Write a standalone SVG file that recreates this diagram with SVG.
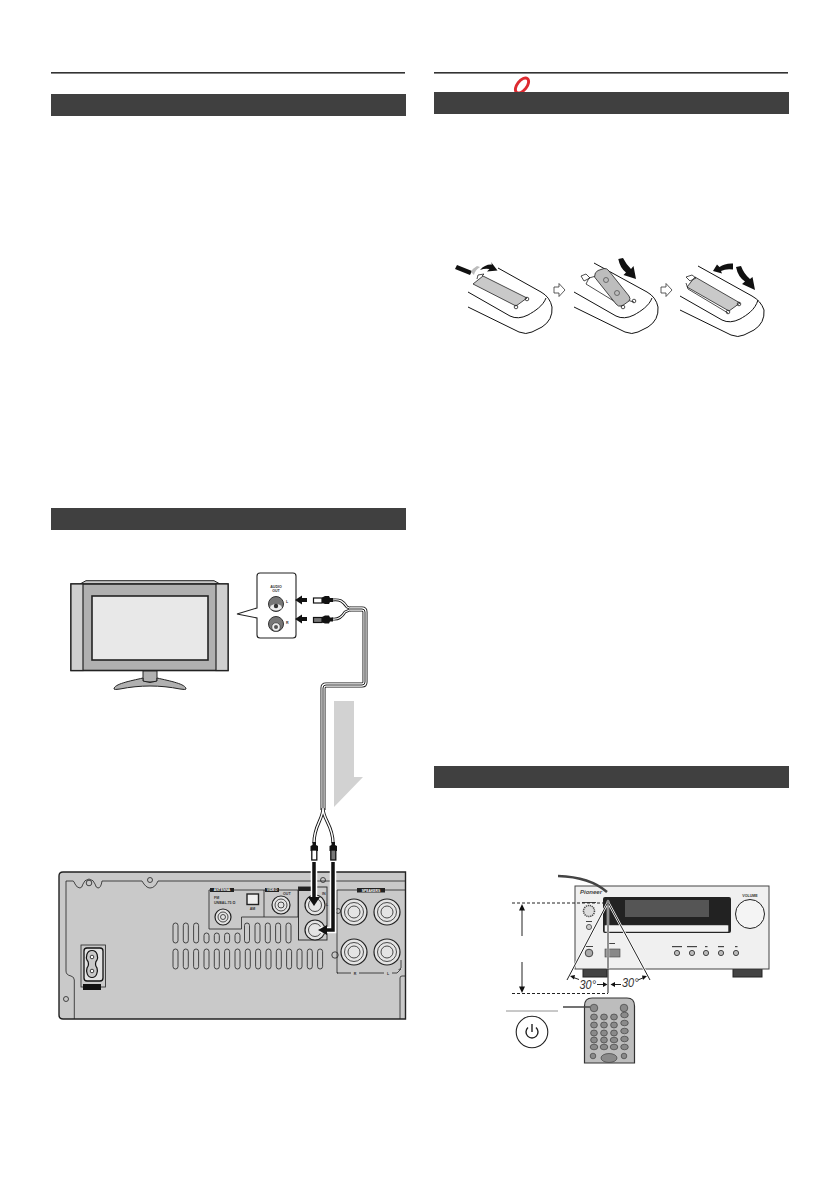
<svg xmlns="http://www.w3.org/2000/svg" width="839" height="1191" viewBox="0 0 839 1191">
<style>
text{font-family:"Liberation Sans",Arial,sans-serif;fill:#333}
.rule{fill:#333}
.bar{fill:#404040}
.o{fill:none;stroke:#111;stroke-width:1}
.o2{fill:none;stroke:#222;stroke-width:.8}
.g{fill:#c9c9c9;stroke:#222;stroke-width:.8}
.slot{fill:#c9c9c9;stroke:#222;stroke-width:.8}
.t{font-size:3.6px;font-weight:bold}
.w{font-size:3.4px;font-weight:bold;fill:#fff}
.jack{fill:#e4e4e4;stroke:#222;stroke-width:1.200}
.ba{fill:#111;stroke:none}
.rb{fill:#8a8a8a;stroke:#333;stroke-width:.6}
.lab{fill:#444}
</style>
<rect width="839" height="1191" fill="#fff"/>

<g id="headers">
<rect class="rule" x="51" y="72" width="354" height="1.6"/>
<rect class="rule" x="434" y="72" width="354" height="1.6"/>
<ellipse cx="522" cy="85.500" rx="8.800" ry="4.800" transform="rotate(-52 522 85.500)" fill="none" stroke="#dd2a30" stroke-width="2.900"/>
<rect class="bar" x="51" y="94" width="355" height="22"/>
<rect class="bar" x="434" y="92" width="355" height="22"/>
<rect class="bar" x="51" y="508" width="355" height="22"/>
<rect class="bar" x="434" y="766" width="355" height="22"/>
</g>

<g id="tv">
<path d="M80 584L86 580.700H214L220 584Z" fill="#c9c9c9" stroke="#222"/>
<rect x="71" y="584" width="157" height="86.500" fill="#b0b0b0" stroke="#222" stroke-width="1.600"/>
<rect x="71" y="584" width="12" height="86.500" fill="#cfcfcf" stroke="#222" stroke-width="1.200"/>
<rect x="216" y="584" width="12" height="86.500" fill="#cfcfcf" stroke="#222" stroke-width="1.200"/>
<rect x="92" y="596" width="116" height="64" fill="#e8e8e8" stroke="#222" stroke-width="1.600"/>
<path d="M143 671V680Q143 682 145 682H155Q157 682 157 680V671Z" fill="#b0b0b0" stroke="#222"/>
<path d="M114 689C114 684 130 681 143 678V681Q150 684 157 681V678C170 681 186 684 186 689Q186 690 180 689C160 685 140 685 120 689Q114 690 114 689Z" fill="#b0b0b0" stroke="#222"/>
</g>

<g id="audio-out-callout">
<path d="M257 608L237 614L257 618V635Q257 638 260 638H293Q296 638 296 635V576Q296 573 293 573H260Q257 573 257 576Z" fill="#fff" stroke="#222" stroke-width="1.100"/>
<text class="t" x="276" y="588" text-anchor="middle">AUDIO</text>
<text class="t" x="276" y="592" text-anchor="middle">OUT</text>
<circle cx="276" cy="604" r="7.500" fill="#777" stroke="#333"/>
<path d="M270 608a7 5 0 0 0 12 0a6 4 0 0 0-12 0Z" fill="#eee"/>
<circle cx="276" cy="606" r="2.200" fill="#333"/>
<text class="t" x="286" y="603">L</text>
<circle cx="276" cy="624" r="7.500" fill="#777" stroke="#333"/>
<circle cx="276" cy="627" r="4.300" fill="#eee" stroke="#555"/>
<circle cx="276" cy="627" r="2" fill="#555"/>
<text class="t" x="286" y="624">R</text>
</g>

<g id="connectors">
<g fill="none" stroke-linejoin="round">
<path d="M332 600C340 599 343 601 347 607L352 609M332 619C338 620 342 617 345 612L352 609" stroke="#111" stroke-width="2.800"/>
<path d="M332 600C340 599 343 601 347 607L352 609M332 619C338 620 342 617 345 612L352 609" stroke="#fff" stroke-width="1.200"/>
<path d="M350 609H362Q365 609 365 612V682Q365 685 362 685H326Q323 685 323 688V810" stroke="#111" stroke-width="5"/>
<path d="M350 609H362Q365 609 365 612V682Q365 685 362 685H326Q323 685 323 688V810" stroke="#fff" stroke-width="3.300"/>
<path d="M350 609H362Q365 609 365 612V682Q365 685 362 685H326Q323 685 323 688V810" stroke="#111" stroke-width=".9"/>
<path d="M323 808C323 820 314 825 314 843M323 808C323 820 333 825 333 843" stroke="#111" stroke-width="3.200"/>
<path d="M323 808C323 820 314 825 314 843M323 808C323 820 333 825 333 843" stroke="#fff" stroke-width="1.500"/>
</g>
<path class="ba" d="M295 600L302 595.500V598H307V602H302V604.500Z"/>
<path class="ba" d="M295 619L302 614.500V617H307V621H302V623.500Z"/>
<g id="plug-top-l"><rect x="313.500" y="598" width="8.500" height="5" fill="#fff" stroke="#111" stroke-width="1.200"/><path class="ba" d="M322 597.500L325 596H329L330 598H333V602H330L329 604H325L322 603Z"/></g>
<g id="plug-top-r"><rect x="313.500" y="617.500" width="8.500" height="5" fill="#777" stroke="#111" stroke-width="1.200"/><path class="ba" d="M322 617L325 615.500H329L330 617.500H333V621.500H330L329 623.500H325L322 622.500Z"/></g>
<polygon points="334,701 354,701 354,777 363,777 334,807" fill="#d2d2d2"/>
</g>

<g id="rear-panel">
<path d="M405.500 872H63Q59 872 59 876V1015Q59 1019 63 1019H405.500Z" fill="#c9c9c9" stroke="#222" stroke-width="1.400"/>
<path class="o2" d="M74.300 1019V980Q74.300 977 71 976Q66 975 66 971V881H73Q74 881 75 884Q77 888 80 888Q82 888 83 884Q84 880 89 879Q94 880 95 884Q96 888 98 888Q101 888 102 881H142Q146 888 150 888Q155 888 158 881H405"/>
<path class="o2" d="M400 1019V978Q400 976 402 976H405"/>
<circle class="o2" cx="89" cy="883" r="2.800"/><circle class="o2" cx="150" cy="880" r="2.500"/><circle class="o2" cx="323" cy="880" r="2.500"/><circle class="o2" cx="66" cy="999" r="2.500"/>
<path class="o2" stroke="#666" d="M209 890H298V917H241.500V929H209Z"/>
<path class="o2" stroke="#666" d="M264 890V917"/>
<rect x="210" y="888" width="24" height="4" fill="#222"/><text class="w" x="222" y="891.200" text-anchor="middle">ANTENNA</text>
<rect x="265" y="888" width="14" height="4" fill="#222"/><text class="w" x="272" y="891.200" text-anchor="middle">VIDEO</text>
<text class="t" x="214" y="899">FM</text><text class="t" x="214" y="904">UNBAL.75 Ω</text>
<rect x="247" y="894" width="11.500" height="10.500" fill="#eee" stroke="#222" stroke-width="1.400"/>
<text class="t" x="252.500" y="909.500" text-anchor="middle">AM</text>
<text class="t" x="283" y="895">OUT</text>
<circle class="jack" cx="223" cy="917" r="8"/><circle class="o2" cx="223" cy="917" r="5"/><circle class="o2" cx="223" cy="917" r="2.500"/>
<circle class="jack" cx="281" cy="905" r="9"/><circle class="o2" cx="281" cy="905" r="6"/><circle class="o2" cx="281" cy="905" r="3"/>
<rect x="298.500" y="887" width="28.500" height="53" fill="#c9c9c9" stroke="#222" stroke-width=".9"/>
<rect x="298.500" y="887" width="13" height="4" fill="#222"/>
<text class="t" x="322" y="895">IN</text><text class="t" x="326" y="906">L</text>
<circle class="jack" cx="315" cy="905" r="10"/><circle class="o2" cx="315" cy="905" r="6.500"/>
<circle class="jack" cx="315" cy="930" r="10"/><circle class="o2" cx="315" cy="930" r="6.500"/>
<path class="o2" d="M337 890V973H395L401 968V960"/><path class="o2" d="M337 890H405"/>
<rect x="357" y="888" width="28" height="4.500" fill="#222"/><text class="w" x="371" y="891.500" text-anchor="middle">SPEAKERS</text>
<circle class="jack" cx="354" cy="912" r="13"/><circle class="o2" cx="354" cy="912" r="9.500"/><circle class="o2" cx="354" cy="912" r="6"/>
<circle class="jack" cx="387" cy="912" r="13"/><circle class="o2" cx="387" cy="912" r="9.500"/><circle class="o2" cx="387" cy="912" r="6"/>
<circle class="jack" cx="354" cy="952" r="13"/><circle class="o2" cx="354" cy="952" r="9.500"/><circle class="o2" cx="354" cy="952" r="6"/>
<circle class="jack" cx="387" cy="952" r="13"/><circle class="o2" cx="387" cy="952" r="9.500"/><circle class="o2" cx="387" cy="952" r="6"/>
<circle class="o2" cx="335" cy="955" r="3.200"/>
<circle class="o2" cx="338" cy="911" r="2.500"/>
<rect x="338" y="970" width="66" height="5" fill="#c9c9c9"/>
<text class="t" x="355" y="974.500" text-anchor="middle">R</text><text class="t" x="388" y="974.500" text-anchor="middle">L</text>
<path class="o2" d="M337 973H351M359 973H384M392 973H397L401 969"/>
<g id="vents">
<rect class="slot" x="173" y="923" width="5" height="20" rx="2.500"/><rect class="slot" x="183.300" y="923" width="5" height="20" rx="2.500"/><rect class="slot" x="193.600" y="923" width="5" height="20" rx="2.500"/>
<rect class="slot" x="204" y="933" width="5" height="10" rx="2.500"/><rect class="slot" x="214.300" y="933" width="5" height="10" rx="2.500"/><rect class="slot" x="224.600" y="933" width="5" height="10" rx="2.500"/><rect class="slot" x="235" y="933" width="5" height="10" rx="2.500"/>
<rect class="slot" x="244.500" y="923" width="5" height="20" rx="2.500"/><rect class="slot" x="255" y="923" width="5" height="20" rx="2.500"/><rect class="slot" x="265.300" y="923" width="5" height="20" rx="2.500"/><rect class="slot" x="275.600" y="923" width="5" height="20" rx="2.500"/><rect class="slot" x="286" y="923" width="5" height="20" rx="2.500"/>
<rect class="slot" x="173" y="949" width="5" height="20" rx="2.500"/><rect class="slot" x="183.300" y="949" width="5" height="20" rx="2.500"/><rect class="slot" x="193.600" y="949" width="5" height="20" rx="2.500"/><rect class="slot" x="204" y="949" width="5" height="20" rx="2.500"/><rect class="slot" x="214.300" y="949" width="5" height="20" rx="2.500"/><rect class="slot" x="224.600" y="949" width="5" height="20" rx="2.500"/><rect class="slot" x="235" y="949" width="5" height="20" rx="2.500"/><rect class="slot" x="245.300" y="949" width="5" height="20" rx="2.500"/><rect class="slot" x="255.600" y="949" width="5" height="20" rx="2.500"/><rect class="slot" x="266" y="949" width="5" height="20" rx="2.500"/><rect class="slot" x="276.300" y="949" width="5" height="20" rx="2.500"/><rect class="slot" x="286.600" y="949" width="5" height="20" rx="2.500"/><rect class="slot" x="297" y="949" width="5" height="20" rx="2.500"/><rect class="slot" x="307.300" y="949" width="5" height="20" rx="2.500"/><rect class="slot" x="317.600" y="949" width="5" height="20" rx="2.500"/>
</g>
<g id="power-inlet">
<rect x="81" y="945" width="24.500" height="42" fill="#c9c9c9" stroke="#222" stroke-width=".8"/>
<rect x="84" y="948" width="19" height="33" rx="3" fill="#e2e2e2" stroke="#111" stroke-width="1.300"/>
<path d="M92 950.500C86 950.500 86 958 87 960C89 962 89 966 87 968C86 971 87 977.500 92 977.500C97 977.500 98 971 97 968C95 966 95 962 97 960C98 958 98 950.500 92 950.500Z" fill="#c9c9c9" stroke="#111" stroke-width="1.200"/>
<circle cx="92" cy="957" r="1.800" fill="#fff" stroke="#111" stroke-width=".8"/>
<circle cx="92" cy="971" r="1.800" fill="#fff" stroke="#111" stroke-width=".8"/>
<rect x="83" y="984" width="18" height="6" fill="#111"/>
</g>
</g>

<g id="rear-connectors">
<path d="M314 860V902M333 860V930H320" fill="none" stroke="#fff" stroke-width="6.500"/>
<path d="M314 862V898" fill="none" stroke="#111" stroke-width="3.500"/>
<path class="ba" d="M314 906L308 897H320Z"/>
<path d="M333 862V930H326" fill="none" stroke="#111" stroke-width="3.500"/>
<path class="ba" d="M318 930L327 925V935Z"/>
<g><path class="ba" d="M312.500 842V845L310.500 846V851H318V846L316 845V842Z"/><rect x="311.800" y="850" width="5" height="10" fill="#fff" stroke="#111" stroke-width="1.300"/></g>
<g><path class="ba" d="M331.500 842V845L329.500 846V851H337V846L335 845V842Z"/><rect x="330.800" y="850" width="5" height="10" fill="#777" stroke="#111" stroke-width="1.300"/></g>
</g>

<g id="remote-step-1">
<path class="o" d="M498 268L541 292Q550 297 552 307Q553 320 542 327L532 332Q526 335 519 332L468 307"/>
<path class="o" d="M468 292L510 316Q518 320 528 315C535 311 543 306 546 298"/>
<path class="g" d="M483 276L527 298L516 306L473 284Z"/>
<path class="o2" d="M477 279L478 275L484 274L482 276"/>
<circle class="o2" cx="527" cy="299" r="1.800"/><circle class="o2" cx="516" cy="307" r="1.800"/>
<path class="ba" d="M457 265L472 271L470 275L455 269Z"/>
<path d="M480 270Q485 264 492 264.500L491 262L497.500 270.500L487 271.500L489.500 269Q485 268 480 270Z" fill="#111"/>
<path d="M471 272Q473 268 477 266L480 267Q475 270 474 275Z" fill="#bbb"/>
</g>
<path id="flow-1" d="M554 287H559V283.500L565 290L559 296.500V293H554Z" fill="#fff" stroke="#333" stroke-width=".8"/>

<g id="remote-step-2">
<path class="o" d="M594 263L647 292Q656 297 658 307Q659 320 648 327L638 332Q632 335 625 332L574 307"/>
<path class="o" d="M574 292L616 316Q624 320 634 315C641 311 649 306 652 298"/>
<path class="o2" d="M586 284L589 278L596 276M586 284L622 306M612 296L634 302"/>
<path class="o2" d="M581 276L586 274L590 278L584 281Z"/>
<path d="M594.500 277Q594.500 272 598 270.500L604 268.500Q607 268 609 271L629 296Q631 299 629 301L622 306Q618 307 616 304Z" fill="#bdbdbd" stroke="#222" stroke-width=".8"/>
<circle cx="606" cy="280" r="2.500" fill="none" stroke="#333" stroke-width=".6"/>
<circle cx="617" cy="293" r="2.500" fill="none" stroke="#333" stroke-width=".6"/>
<circle class="o2" cx="634" cy="301" r="1.800"/><circle class="o2" cx="623" cy="307" r="1.800"/>
<path d="M618.300 259Q620 268 626 272.500L623.500 275L636 279L633.500 266L631 269Q626 264 623 258Z" fill="#111"/>
</g>
<path id="flow-2" d="M661 287H666V283.500L672 290L666 296.500V293H661Z" fill="#fff" stroke="#333" stroke-width=".8"/>

<g id="remote-step-3">
<path class="o" d="M698 266L752 296Q761 301 764 310Q765 323 754 330L744 335Q738 338 731 335L680 310"/>
<path class="o" d="M680 296L722 320Q730 324 740 319C747 315 755 310 758 300"/>
<path class="g" d="M695 277L740 303L729 311L687 287Z"/>
<path class="o2" d="M686 283L688 289L728 313"/>
<path class="o2" d="M686 277L692 275L696 278L690 281Z"/>
<circle class="o2" cx="739" cy="304" r="1.800"/><circle class="o2" cx="728" cy="312" r="1.800"/>
<path d="M733 263.500Q725 263 719.500 267L717 264.500L713 271L722 273.500L721 271Q726 268.500 733 269.500Z" fill="#111"/>
<path d="M736 267Q738 277 745 281.500L742 284L755 290L752.500 277L750 279Q744 274 741 266Z" fill="#111"/>
</g>

<g id="cd-receiver">
<rect x="583" y="969" width="24" height="8" fill="#444" stroke="#222"/>
<rect x="733" y="969" width="29" height="8" fill="#444" stroke="#222"/>
<rect x="575" y="886" width="194" height="83" fill="#f0f0f0" stroke="#444" stroke-width="1"/>
<rect x="603" y="897" width="128" height="36" rx="2" fill="#222"/>
<rect x="625" y="900" width="84" height="17" fill="#555"/>
<rect x="604.500" y="925" width="124" height="7" rx="1" fill="#f2f2f2" stroke="#333" stroke-width=".5"/>
<text x="580" y="894" font-size="6" font-weight="bold" font-style="italic" style="fill:#444">Pioneer</text>
<text class="t" x="750" y="897" text-anchor="middle">VOLUME</text>
<circle cx="750" cy="914" r="14.500" fill="#f4f4f4" stroke="#222" stroke-width="1"/>
<circle cx="589" cy="911" r="5.500" fill="#ddd" stroke="#444" stroke-width="1.500" stroke-dasharray="1.200 .8"/>
<circle cx="589" cy="927" r="2.600" fill="#ccc" stroke="#444" stroke-width=".8"/>
<circle cx="589" cy="953" r="3.800" fill="#aaa" stroke="#444" stroke-width="1"/>
<rect x="605" y="949" width="15" height="8" fill="#888" stroke="#444" stroke-width=".6"/>
<g class="lab"><rect x="582" y="902" width="14" height="1"/><rect x="586" y="921" width="6" height="1"/><rect x="585" y="946" width="8" height="1"/><rect x="609" y="943" width="6" height="1"/><rect x="672" y="946" width="10" height="1.200"/><rect x="687" y="946" width="10" height="1.200"/><rect x="705" y="946" width="2.500" height="1.200"/><rect x="718" y="946" width="6" height="1.200"/><rect x="735" y="946" width="2.500" height="1.200"/></g>
<g fill="#bbb" stroke="#444" stroke-width="1">
<circle cx="677" cy="953" r="2.600"/><circle cx="692" cy="953" r="2.600"/><circle cx="706" cy="953" r="2.600"/><circle cx="721" cy="953" r="2.600"/><circle cx="736" cy="953" r="2.600"/>
</g>
</g>

<g id="range-lines">
<path d="M567 980L608 902L650 980M608 902V969" fill="none" stroke="#fff" stroke-width="2.400"/>
<path d="M512 903H608M512 993.500H608" fill="none" stroke="#222" stroke-width="1" stroke-dasharray="3 2"/>
<path d="M608 902L567 980M608 902L650 980M608 902V993" fill="none" stroke="#222" stroke-width="1"/>
<circle cx="608" cy="902" r="1.800" fill="#888"/>
<path d="M522 936V908" stroke="#222" stroke-width="1"/><path class="ba" d="M522 904L525 910.500H519Z"/>
<path d="M522 962V989" stroke="#222" stroke-width="1"/><path class="ba" d="M522 993L525 986.500H519Z"/>
<path d="M558 876Q590 877 607 892" fill="none" stroke="#444" stroke-width="2.500"/>
<path d="M572 977L579 979.500M597 984.500H605M613 984.500H621M638 980L645 977" stroke="#222" stroke-width="1" fill="none"/>
<path class="ba" d="M570 976L575 975L574 979.500ZM607.500 984.500L603 982V987ZM610.500 984.500L615 982V987ZM647 976L642 975.500L643 980Z"/>
<text x="579.500" y="988.500" font-size="13.500" font-style="italic" textLength="16.500" lengthAdjust="spacingAndGlyphs">30°</text>
<text x="622" y="986.500" font-size="13.500" font-style="italic" textLength="16.500" lengthAdjust="spacingAndGlyphs">30°</text>
</g>

<g id="remote-front">
<path d="M584.500 1063V1006Q584.500 998 592 998H627Q634.500 998 634.500 1006V1063Z" fill="#bdbdbd" stroke="#333" stroke-width="1.200"/>
<g class="rb">
<circle cx="594" cy="1008" r="3.800"/><circle cx="624" cy="1008" r="3.800"/>
<ellipse cx="594" cy="1017" rx="3.400" ry="3"/><ellipse cx="604" cy="1017" rx="3.400" ry="3"/><ellipse cx="614" cy="1017" rx="3.400" ry="3"/>
<ellipse cx="594" cy="1025" rx="3.400" ry="3"/><ellipse cx="604" cy="1025" rx="3.400" ry="3"/><ellipse cx="614" cy="1025" rx="3.400" ry="3"/>
<ellipse cx="594" cy="1033" rx="3.400" ry="3"/><ellipse cx="604" cy="1033" rx="3.400" ry="3"/><ellipse cx="614" cy="1033" rx="3.400" ry="3"/>
<ellipse cx="594" cy="1040" rx="3.400" ry="3"/><ellipse cx="604" cy="1040" rx="3.400" ry="3"/><ellipse cx="614" cy="1040" rx="3.800" ry="2.800"/>
<ellipse cx="624.500" cy="1015" rx="3.800" ry="2.800"/><ellipse cx="624.500" cy="1023" rx="3.800" ry="2.800"/><ellipse cx="624.500" cy="1031" rx="3.800" ry="2.800"/><ellipse cx="624.500" cy="1039" rx="3.800" ry="2.800"/>
<ellipse cx="594" cy="1047" rx="3.800" ry="2.800"/><ellipse cx="604" cy="1047" rx="3.800" ry="2.800"/><ellipse cx="614" cy="1047" rx="3.800" ry="2.800"/><ellipse cx="624.500" cy="1047" rx="3.800" ry="2.800"/>
<circle cx="593" cy="1056" r="2.800"/><circle cx="624" cy="1056" r="2.800"/><ellipse cx="609" cy="1058" rx="8" ry="4.500"/>
</g>
<path d="M563 1007H590" stroke="#444" stroke-width="1.500"/>
<path d="M506 1011H558" stroke="#777" stroke-width=".8"/>
</g>

<g id="standby-button">
<circle cx="532" cy="1032" r="15.800" fill="#fff" stroke="#222" stroke-width="1.100"/>
<path d="M528 1027.500A6 6 0 1 0 536 1027.500M532 1024V1032" fill="none" stroke="#222" stroke-width="1.400"/>
</g>
</svg>
